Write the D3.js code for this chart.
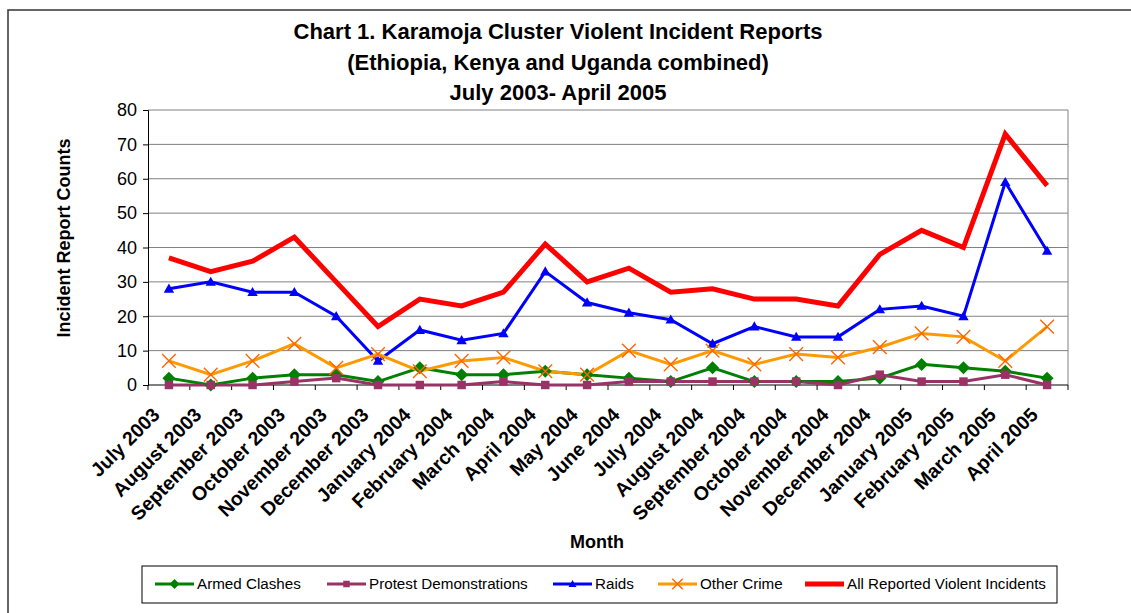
<!DOCTYPE html>
<html>
<head>
<meta charset="utf-8">
<script src="https://cdn.jsdelivr.net/npm/d3@7"></script>
<style>
  body { margin: 0; background: #fff; }
  svg { display: block; font-family: "Liberation Sans", Arial, sans-serif; }
</style>
</head>
<body>
<svg id="chart" width="1131" height="613"></svg>
<script>
// Months shown on the x axis
const months = [
  "July 2003", "August 2003", "September 2003", "October 2003", "November 2003",
  "December 2003", "January 2004", "February 2004", "March 2004", "April 2004",
  "May 2004", "June 2004", "July 2004", "August 2004", "September 2004",
  "October 2004", "November 2004", "December 2004", "January 2005",
  "February 2005", "March 2005", "April 2005"
];

// Series values
const armedClashes = [2, 0, 2, 3, 3, 1, 5, 3, 3, 4, 3, 2, 1, 5, 1, 1, 1, 2, 6, 5, 4, 2];
const protestDemos = [0, 0, 0, 1, 2, 0, 0, 0, 1, 0, 0, 1, 1, 1, 1, 1, 0, 3, 1, 1, 3, 0];
const raids        = [28, 30, 27, 27, 20, 7, 16, 13, 15, 33, 24, 21, 19, 12, 17, 14, 14, 22, 23, 20, 59, 39];
const otherCrime   = [7, 3, 7, 12, 5, 9, 4, 7, 8, 4, 3, 10, 6, 10, 6, 9, 8, 11, 15, 14, 7, 17];
const allIncidents = [37, 33, 36, 43, 30, 17, 25, 23, 27, 41, 30, 34, 27, 28, 25, 25, 23, 38, 45, 40, 73, 58];

const yTicks = [0, 10, 20, 30, 40, 50, 60, 70, 80];

const series = [
  { name: "Armed Clashes", values: armedClashes, color: "#008000", marker: "diamond", width: 3 },
  { name: "Protest Demonstrations", values: protestDemos, color: "#993366", marker: "square", width: 3 },
  { name: "Raids", values: raids, color: "#0000FF", marker: "triangle", width: 3 },
  { name: "Other Crime", values: otherCrime, color: "#FF9900", marker: "x", width: 3 },
  { name: "All Reported Violent Incidents", values: allIncidents, color: "#FF0000", marker: null, width: 5 }
];

const svg = d3.select("#chart");
const plotLeft = 148, plotRight = 1068, plotTop = 110, plotBottom = 385;

// outer frame (runs off the right and bottom of the picture)
svg.append("rect")
  .attr("x", 8).attr("y", 10)
  .attr("width", 1200).attr("height", 700)
  .attr("fill", "none").attr("stroke", "#333").attr("stroke-width", 1.5);

const x = d3.scaleBand().domain(months).range([plotLeft, plotRight]);
const y = d3.scaleLinear().domain([0, 80]).range([plotBottom, plotTop]);
const cx = d => x(d) + x.bandwidth() / 2;

// gridlines
svg.append("g")
  .selectAll("line")
  .data(yTicks.filter(t => t > 0))
  .join("line")
  .attr("x1", plotLeft).attr("x2", plotRight)
  .attr("y1", d => y(d)).attr("y2", d => y(d))
  .attr("stroke", "#808080").attr("stroke-width", 1);

// plot area right edge
svg.append("line")
  .attr("x1", plotRight).attr("x2", plotRight)
  .attr("y1", plotTop).attr("y2", plotBottom)
  .attr("stroke", "#808080").attr("stroke-width", 1);

// y axis
const yAxis = svg.append("g")
  .attr("transform", `translate(${plotLeft},0)`)
  .call(d3.axisLeft(y).tickValues(yTicks).tickSize(5).tickPadding(6));
yAxis.selectAll("text").attr("font-size", 18).attr("fill", "#000")
  .style("font-family", "Liberation Sans, Arial, sans-serif");
yAxis.selectAll("line, path").attr("stroke", "#000");

// x axis: ticks at category boundaries
const xAxisG = svg.append("g").attr("transform", `translate(0,${plotBottom})`);
xAxisG.append("line")
  .attr("x1", plotLeft).attr("x2", plotRight)
  .attr("stroke", "#000");
xAxisG.selectAll("line.tick")
  .data(d3.range(months.length + 1))
  .join("line")
  .attr("class", "tick")
  .attr("x1", i => plotLeft + i * x.step()).attr("x2", i => plotLeft + i * x.step())
  .attr("y1", 0).attr("y2", 5)
  .attr("stroke", "#000");
xAxisG.selectAll("text")
  .data(months)
  .join("text")
  .attr("transform", d => `translate(${cx(d) - 8},${31}) rotate(-45)`)
  .attr("text-anchor", "end")
  .attr("font-size", 19.5)
  .attr("font-weight", "bold")
  .text(d => d);

// lines
const line = d3.line().x((v, i) => cx(months[i])).y(v => y(v));
series.forEach(s => {
  svg.append("path")
    .datum(s.values)
    .attr("d", line)
    .attr("fill", "none")
    .attr("stroke", s.color)
    .attr("stroke-width", s.width)
    .attr("stroke-linejoin", "miter");
});

// marker shapes, r is half the marker size
function drawMarker(g, type, color, px, py, r) {
  if (type === "diamond") {
    g.append("path")
      .attr("d", `M${px},${py - r}L${px + r},${py}L${px},${py + r}L${px - r},${py}Z`)
      .attr("fill", color);
  } else if (type === "square") {
    const h = r * 0.65;
    g.append("rect")
      .attr("x", px - h).attr("y", py - h).attr("width", 2 * h).attr("height", 2 * h)
      .attr("fill", color);
  } else if (type === "triangle") {
    const h = r * 0.8;
    g.append("path")
      .attr("d", `M${px},${py - h}L${px + h},${py + h * 0.75}L${px - h},${py + h * 0.75}Z`)
      .attr("fill", color);
  } else if (type === "x") {
    const h = r * 1.05;
    g.append("path")
      .attr("d", `M${px - h},${py - h}L${px + h},${py + h}M${px - h},${py + h}L${px + h},${py - h}`)
      .attr("stroke", "#FF6600").attr("stroke-width", 1.4).attr("fill", "none");
  }
}

// markers
series.filter(s => s.marker).forEach(s => {
  const g = svg.append("g");
  s.values.forEach((v, i) => drawMarker(g, s.marker, s.color, cx(months[i]), y(v), 6.5));
});

// title
const titleLines = [
  "Chart 1. Karamoja Cluster Violent Incident Reports",
  "(Ethiopia, Kenya and Uganda combined)",
  "July 2003- April 2005"
];
svg.append("g").selectAll("text")
  .data(titleLines)
  .join("text")
  .attr("x", 558)
  .attr("y", (d, i) => 39 + i * 30.5)
  .attr("text-anchor", "middle")
  .attr("font-size", 22)
  .attr("font-weight", "bold")
  .text(d => d);

// axis titles
svg.append("text")
  .attr("transform", "translate(70,238) rotate(-90)")
  .attr("text-anchor", "middle")
  .attr("font-size", 18)
  .attr("font-weight", "bold")
  .text("Incident Report Counts");

svg.append("text")
  .attr("x", 597).attr("y", 548)
  .attr("text-anchor", "middle")
  .attr("font-size", 18)
  .attr("font-weight", "bold")
  .text("Month");

// legend
const legend = svg.append("g");
legend.append("rect")
  .attr("x", 142).attr("y", 566)
  .attr("width", 915).attr("height", 37)
  .attr("fill", "#fff").attr("stroke", "#000").attr("stroke-width", 1);
const legendX = [155, 327, 553, 658, 805];
series.forEach((s, i) => {
  const lx = legendX[i], ly = 584;
  legend.append("line")
    .attr("x1", lx).attr("x2", lx + 39)
    .attr("y1", ly).attr("y2", ly)
    .attr("stroke", s.color).attr("stroke-width", s.marker ? 3 : 5);
  if (s.marker) drawMarker(legend, s.marker, s.color, lx + 19.5, ly, 5);
  legend.append("text")
    .attr("x", lx + 42).attr("y", ly)
    .attr("dy", "0.35em")
    .attr("font-size", 15.2)
    .text(s.name);
});
</script>
</body>
</html>
